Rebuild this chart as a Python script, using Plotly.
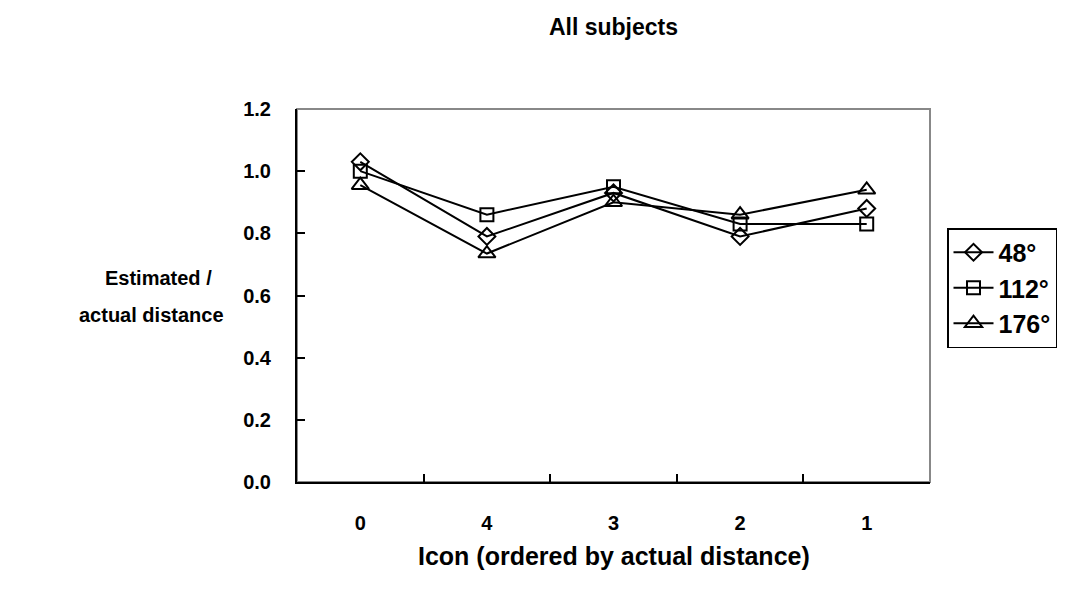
import plotly.graph_objects as go

categories = ["0", "4", "3", "2", "1"]
series_names = ["48°", "112°", "176°"]
vals_48 = [1.03, 0.79, 0.93, 0.79, 0.88]
vals_112 = [1.00, 0.86, 0.95, 0.83, 0.83]
vals_176 = [0.955, 0.735, 0.90, 0.86, 0.94]
y_ticks = [0.0, 0.2, 0.4, 0.6, 0.8, 1.0, 1.2]

FONT = "Liberation Sans, Arial, sans-serif"
symbols = ["diamond-open", "square-open", "triangle-up-open"]
sizes = [13, 13, 15]

OFF = 8  # page body margin
W, H = 1091, 595
PL, PR, PT, PB = 297 - OFF, 930 - OFF, 109 - OFF, 482 - OFF
PW, PH = PR - PL, PB - PT


def px(xr):
    return (xr - OFF - PL) / PW


def py(yr):
    return (PB - (yr - OFF)) / PH


fig = go.Figure()
for name, vals, sym, sz in zip(series_names, [vals_48, vals_112, vals_176], symbols, sizes):
    fig.add_trace(go.Scatter(
        x=categories, y=vals, name="<b>" + name + "</b>", mode="lines+markers",
        line=dict(color="black", width=2),
        marker=dict(symbol=sym, size=sz, color="black", line=dict(color="black", width=2)),
    ))

fig.update_layout(
    width=W, height=H,
    paper_bgcolor="white", plot_bgcolor="white",
    margin=dict(l=PL, r=W - PR, t=PT, b=H - PB),
    font=dict(family=FONT, size=20, color="black"),
    title=dict(text="<b>All subjects</b>", xref="container", x=(613.5 - OFF) / W, xanchor="center",
               yref="container", y=1 - (27 - OFF) / H, yanchor="middle", font=dict(size=23)),
    showlegend=True,
    legend=dict(xref="container", yref="container", x=(947 - OFF) / W, y=1 - (228 - OFF) / H,
                xanchor="left", yanchor="top", bordercolor="black", borderwidth=1.5,
                bgcolor="white", font=dict(size=25, family=FONT), itemwidth=40),
    xaxis=dict(type="category", categoryorder="array", categoryarray=categories,
               range=[-0.5, 4.5],
               tickson="boundaries", ticks="inside", ticklen=8, tickwidth=2, tickcolor="black",
               showline=True, linecolor="black", linewidth=2, showgrid=False, zeroline=False,
               tickfont=dict(size=20), ticklabelstandoff=22,
               tickvals=categories, ticktext=["<b>%s</b>" % c for c in categories]),
    yaxis=dict(range=[0, 1.2], tickvals=y_ticks, ticktext=["<b>%.1f</b>" % v for v in y_ticks],
               ticks="inside", ticklen=8, tickwidth=2, tickcolor="black",
               showline=True, linecolor="black", linewidth=2, showgrid=False, zeroline=False,
               tickfont=dict(size=20), ticklabelstandoff=20),
    shapes=[dict(type="rect", xref="paper", yref="paper", x0=0, x1=1, y0=0, y1=1,
                 line=dict(color="#888888", width=2), layer="below")],
    annotations=[
        dict(text="<b>Estimated /</b>", xref="paper", yref="paper",
             x=px(158), y=py(278), xanchor="center", yanchor="middle",
             showarrow=False, font=dict(size=20)),
        dict(text="<b>actual distance</b>", xref="paper", yref="paper",
             x=px(151), y=py(315), xanchor="center", yanchor="middle",
             showarrow=False, font=dict(size=20)),
        dict(text="<b>Icon (ordered by actual distance)</b>", xref="paper", yref="paper",
             x=px(613.5), y=py(556), xanchor="center", yanchor="middle",
             showarrow=False, font=dict(size=25)),
    ],
)

fig.write_html("out.html")
